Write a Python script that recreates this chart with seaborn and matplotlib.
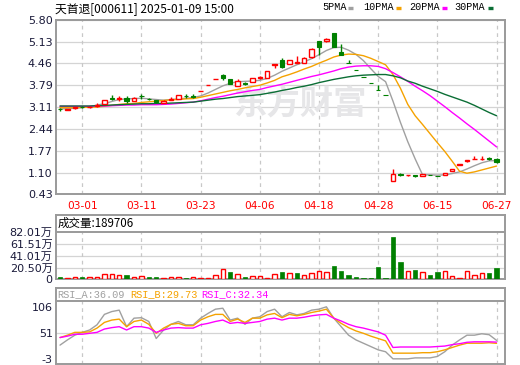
import numpy as np
import pandas as pd
import seaborn as sns
import matplotlib.pyplot as plt
from matplotlib.lines import Line2D

sns.set_style("white")
plt.rcParams['font.family'] = ['DejaVu Sans', 'Noto Sans CJK SC']

# ---- data ----
date_labels = ['03-01', '03-11', '03-23', '04-06', '04-18', '04-28', '06-15', '06-27']
date_pos = [3, 11, 19, 27, 35, 43, 51, 59]

opens = [3.06, 3.04, 3.08, 3.13, 3.11, 3.14, 3.21, 3.38, 3.38, 3.40,
         3.31, 3.47, 3.37, 3.33, 3.24, 3.35, 3.38, 3.47, 3.46, 3.60,
         3.79, 3.97, 4.10, 3.98, 3.78, 3.86, 3.89, 4.02, 4.02, 4.42,
         4.58, 4.44, 4.49, 4.47, 4.65, 5.16, 5.14, 5.40, 4.82, 4.47,
         4.26, 4.04, 3.86, 3.65, 3.49, 0.85, 1.05, 1.01, 1.01, 1.00,
         1.03, 1.00, 1.04, 1.14, 1.34, 1.47, 1.52, 1.52, 1.54, 1.52]
closes = [3.05, 3.05, 3.11, 3.11, 3.13, 3.17, 3.32, 3.37, 3.39, 3.29,
          3.40, 3.46, 3.36, 3.26, 3.31, 3.38, 3.48, 3.45, 3.44, 3.61,
          3.79, 3.97, 4.01, 3.84, 3.93, 3.83, 4.00, 4.04, 4.22, 4.43,
          4.36, 4.57, 4.50, 4.64, 4.92, 4.97, 5.23, 4.97, 4.72, 4.46,
          4.25, 4.03, 3.85, 3.64, 3.48, 1.05, 1.03, 1.03, 1.00, 1.05,
          1.02, 0.99, 1.10, 1.22, 1.35, 1.48, 1.53, 1.53, 1.53, 1.43]
highs = [3.10, 3.05, 3.12, 3.14, 3.14, 3.23, 3.33, 3.49, 3.45, 3.45,
         3.42, 3.53, 3.40, 3.34, 3.32, 3.42, 3.50, 3.53, 3.52, 3.61,
         3.79, 3.97, 4.14, 3.98, 3.98, 3.90, 4.00, 4.08, 4.22, 4.43,
         4.62, 4.57, 4.70, 4.65, 4.93, 5.16, 5.24, 5.41, 5.06, 4.58,
         4.26, 4.04, 3.86, 3.80, 3.49, 1.20, 1.09, 1.04, 1.01, 1.05,
         1.03, 1.00, 1.10, 1.22, 1.35, 1.48, 1.62, 1.60, 1.58, 1.54]
lows = [3.00, 3.04, 3.07, 3.10, 3.10, 3.12, 3.20, 3.33, 3.30, 3.25,
        3.30, 3.37, 3.32, 3.24, 3.23, 3.33, 3.37, 3.41, 3.40, 3.60,
        3.79, 3.97, 3.94, 3.84, 3.78, 3.79, 3.89, 3.98, 4.02, 4.33,
        4.31, 4.44, 4.49, 4.46, 4.64, 4.73, 5.13, 4.96, 4.72, 4.46,
        4.25, 4.03, 3.85, 3.64, 3.48, 0.85, 0.98, 1.00, 0.97, 1.00,
        1.01, 0.98, 1.04, 1.14, 1.34, 1.41, 1.52, 1.49, 1.50, 1.40]

ma5 = [3.06, 3.07, 3.08, 3.10, 3.13, 3.18, 3.22, 3.29, 3.35, 3.37,
       3.38, 3.39, 3.37, 3.35, 3.33, 3.35, 3.37, 3.39, 3.41, 3.46,
       3.55, 3.66, 3.77, 3.85, 3.90, 3.91, 3.92, 3.94, 4.00, 4.10,
       4.22, 4.32, 4.42, 4.51, 4.61, 4.73, 4.86, 4.95, 4.96, 4.87,
       4.74, 4.55, 4.30, 4.06, 3.90, 3.30, 2.65, 2.05, 1.52, 1.03,
       1.03, 1.02, 1.03, 1.07, 1.12, 1.21, 1.31, 1.40, 1.46, 1.47]
ma10 = [3.10, 3.10, 3.10, 3.11, 3.11, 3.12, 3.14, 3.17, 3.20, 3.22,
        3.23, 3.26, 3.28, 3.30, 3.32, 3.34, 3.35, 3.37, 3.38, 3.42,
        3.47, 3.52, 3.57, 3.62, 3.66, 3.71, 3.75, 3.79, 3.86, 3.94,
        4.05, 4.12, 4.20, 4.29, 4.37, 4.47, 4.56, 4.66, 4.72, 4.75,
        4.74, 4.70, 4.62, 4.52, 4.42, 4.12, 3.70, 3.20, 2.85, 2.58,
        2.30, 2.02, 1.75, 1.45, 1.14, 1.08, 1.12, 1.18, 1.24, 1.30]
ma20 = [3.14, 3.14, 3.14, 3.14, 3.14, 3.15, 3.15, 3.16, 3.17, 3.18,
        3.18, 3.19, 3.19, 3.19, 3.20, 3.21, 3.23, 3.25, 3.27, 3.31,
        3.36, 3.41, 3.45, 3.50, 3.55, 3.59, 3.63, 3.66, 3.72, 3.77,
        3.82, 3.88, 3.94, 4.00, 4.06, 4.11, 4.17, 4.23, 4.30, 4.35,
        4.38, 4.39, 4.39, 4.37, 4.30, 4.18, 4.05, 3.91, 3.76, 3.62,
        3.47, 3.30, 3.13, 2.95, 2.78, 2.60, 2.43, 2.25, 2.07, 1.89]
ma30 = [3.15, 3.15, 3.15, 3.15, 3.15, 3.16, 3.17, 3.18, 3.19, 3.20,
        3.21, 3.22, 3.22, 3.23, 3.23, 3.24, 3.25, 3.26, 3.27, 3.30,
        3.33, 3.36, 3.38, 3.41, 3.44, 3.46, 3.48, 3.50, 3.54, 3.58,
        3.63, 3.67, 3.72, 3.76, 3.81, 3.87, 3.92, 3.97, 4.01, 4.05,
        4.08, 4.10, 4.11, 4.12, 4.12, 4.08, 4.02, 3.92, 3.85, 3.76,
        3.68, 3.60, 3.51, 3.43, 3.35, 3.27, 3.17, 3.06, 2.95, 2.85]

# volume in 万
vols = [4.1, 2.3, 4.1, 4.1, 4.1, 4.1, 8.8, 8.8, 7.0, 7.6,
        4.1, 5.3, 4.1, 4.1, 2.3, 3.5, 3.5, 2.3, 3.5, 2.3,
        2.3, 7.0, 18.7, 12.9, 8.8, 4.1, 6.4, 5.3, 1.8, 8.8,
        12.9, 10.5, 11.1, 7.0, 10.5, 14.0, 12.9, 23.4, 14.6, 7.6,
        4.1, 2.3, 2.3, 21.6, 2.3, 74.2, 30.4, 14.6, 16.4, 12.9,
        7.6, 12.9, 14.6, 5.3, 1.8, 14.0, 7.0, 10.5, 11.1, 18.97]
vol_dir = list('grrgrrrrrg' 'rrggrrrgrr' 'rrrgrgrrrr' 'grgrrrrggg' 'gggggggrgr' 'ggrrrrrrgg')

rsi_a = [26, 37, 47, 53, 58, 69, 91, 97, 100, 65,
         83, 84, 76, 40, 58, 70, 76, 69, 69, 83,
         93, 102, 104, 79, 83, 70, 83, 86, 97, 102,
         86, 95, 90, 93, 100, 102, 107, 83, 65, 47,
         37, 30, 23, 16, 12, -3, -3, -3, -1, -1,
         -1, 2, 12, 26, 37, 47, 47, 50, 48, 36.09]
rsi_b = [42, 47, 53, 53, 54, 62, 74, 79, 81, 65,
         76, 79, 70, 51, 62, 70, 72, 67, 67, 79,
         86, 91, 91, 76, 81, 74, 83, 83, 90, 93,
         84, 91, 88, 91, 95, 98, 102, 83, 72, 63,
         56, 51, 45, 40, 35, 9, 9, 9, 9, 10,
         10, 12, 16, 21, 26, 30, 30, 30, 31, 29.73]
rsi_c = [42, 45, 49, 49, 51, 53, 60, 63, 65, 58,
         65, 65, 62, 53, 58, 62, 63, 62, 62, 69,
         72, 76, 79, 72, 74, 72, 74, 76, 81, 83,
         79, 83, 83, 85, 88, 90, 91, 83, 77, 70,
         65, 62, 58, 54, 47, 21, 22, 22, 22, 22,
         22, 23, 24, 27, 29, 32, 33, 33, 33, 32.34]

price_ticks = [0.43, 1.10, 1.77, 2.44, 3.11, 3.79, 4.46, 5.13, 5.80]
vol_ticks = [0, 20.50, 41.01, 61.51, 82.01]
rsi_ticks = [-3, 51, 106]

RED = '#ff0000'
GREEN = '#008000'
C5, C10, C20, C30 = '#a0a0a0', '#f5a200', '#ff00ff', '#0b6e35'
BORDER = '#9a9a9a'
GRID = '#d4d4d4'
TXT = '#1a1a3a'

W, H = 520, 365
fig = plt.figure(figsize=(W / 100, H / 100), dpi=100)
L, R = 55.5, 505


def box(top, bottom):
    return [L / W, 1 - bottom / H, (R - L) / W, (bottom - top) / H]


ax = fig.add_axes(box(20, 194.3))
axv = fig.add_axes(box(215, 279.3))
axr = fig.add_axes(box(288, 364))

idx = np.arange(len(opens))
xlim = (-0.61, 60.14)

for a in (ax, axv, axr):
    a.set_xlim(*xlim)
    for s in a.spines.values():
        s.set_color(BORDER)
        s.set_linewidth(1.4)
    a.tick_params(length=0, labelsize=8, colors=TXT, pad=2)

# ---- price panel ----
ax.set_ylim(0.43, 5.80)
ax.set_yticks(price_ticks)
ax.set_yticklabels(['%.2f' % v for v in price_ticks])
for v in price_ticks:
    ax.axhline(v, color=GRID, lw=0.9, zorder=0)
for p in date_pos:
    ax.axvline(p, color='#c8c8c8', lw=0.9, ls=(0, (3, 3)), zorder=0)
ax.set_xticks(date_pos)
ax.set_xticklabels(date_labels, color=RED, fontsize=7.6)
ax.tick_params(axis='x', pad=5, colors=RED)

ax.text(0.395, 0.515, '东方财富', transform=ax.transAxes, fontsize=24,
        fontweight='bold', color='#e6e6e8', va='center', ha='left',
        family=['Noto Sans CJK SC'], zorder=0)

for vals, col in ((ma5, C5), (ma10, C10), (ma20, C20), (ma30, C30)):
    sns.lineplot(x=idx, y=vals, ax=ax, color=col, lw=1.0, zorder=2, legend=False)

o, c = np.array(opens), np.array(closes)
h, l = np.array(highs), np.array(lows)
up = c >= o
lo_b, hi_b = np.minimum(o, c), np.maximum(o, c)
bh = np.maximum(hi_b - lo_b, 0.012)
cols = np.where(up, RED, GREEN)
ax.vlines(idx, hi_b, h, colors=cols, lw=1.0, zorder=3)
ax.vlines(idx, l, lo_b, colors=cols, lw=1.0, zorder=3)
ax.bar(idx[up], bh[up], bottom=lo_b[up], width=0.6, facecolor='white',
       edgecolor=RED, lw=1.0, zorder=4)
ax.bar(idx[~up], bh[~up], bottom=lo_b[~up], width=0.6, facecolor=GREEN,
       edgecolor=GREEN, lw=0.8, zorder=4)

# ---- volume panel ----
vtop = 82.01 * (279.3 - 215) / (279.3 - 232.3)
axv.set_ylim(0, vtop)
axv.set_yticks(vol_ticks)
axv.set_yticklabels(['0'] + ['%.2f万' % v for v in vol_ticks[1:]])
axv.set_xticks([])
for v in vol_ticks[1:4]:
    axv.axhline(v, color=GRID, lw=0.9, zorder=0)
axv.axhline(82.01, color=BORDER, lw=1.4, zorder=1)
frac = 82.01 / vtop
for p in date_pos:
    axv.axvline(p, ymax=frac, color='#c8c8c8', lw=0.9, ls=(0, (3, 3)), zorder=0)
vd = np.array(vol_dir)
vv = np.array(vols)
axv.bar(idx[vd == 'r'], vv[vd == 'r'], width=0.6, facecolor='white',
        edgecolor=RED, lw=1.0, zorder=3)
axv.bar(idx[vd == 'g'], vv[vd == 'g'], width=0.6, facecolor=GREEN,
        edgecolor=GREEN, lw=0.5, zorder=3)
axv.text(0.004, (82.01 + vtop) / 2 / vtop, '成交量:189706', transform=axv.transAxes,
         fontsize=8.3, color='black', va='center', ha='left',
         family=['Noto Sans CJK SC', 'DejaVu Sans'])

# ---- RSI panel ----
r_lo = 51 - (364 - 333.3) * 2.115
r_hi = 51 + (333.3 - 288) * 2.115
r_div = 51 + (333.3 - 301) * 2.115
axr.set_ylim(r_lo, r_hi)
axr.set_yticks(rsi_ticks)
axr.set_yticklabels([str(v) for v in rsi_ticks])
axr.set_xticks([])
axr.axhline(51, color=GRID, lw=0.9, zorder=0)
axr.axhline(r_div, color=BORDER, lw=1.4, zorder=1)
rfrac = (r_div - r_lo) / (r_hi - r_lo)
for p in date_pos:
    axr.axvline(p, ymax=rfrac, color='#c8c8c8', lw=0.9, ls=(0, (3, 3)), zorder=0)
for vals, col in ((rsi_a, C5), (rsi_b, C10), (rsi_c, C20)):
    sns.lineplot(x=idx, y=vals, ax=axr, color=col, lw=1.0, zorder=2, legend=False)

ry = 1 - 294.5 / H
for xpix, txt, col in ((57, 'RSI_A:36.09', C5), (130, 'RSI_B:29.73', C10),
                       (201.7, 'RSI_C:32.34', C20)):
    fig.text(xpix / W, ry, txt, color=col, fontsize=7.4, va='center', ha='left',
             family=['Liberation Mono'])

# ---- title and legend ----
fig.text(55 / W, 1 - 8.5 / H, '天首退[000611] 2025-01-09 15:00', fontsize=8.5,
         va='center', ha='left', color='black', family=['Noto Sans CJK SC'])
ly = 1 - 7.5 / H
for xpix, txt, x0, col in ((322, '5PMA', 348, C5), (363, '10PMA', 396, C10),
                           (409, '20PMA', 442, C20), (454, '30PMA', 488, C30)):
    fig.text(xpix / W, ly, txt, fontsize=7.3, va='center', ha='left',
             color='black', family=['Liberation Mono'])
    fig.add_artist(Line2D([x0 / W, (x0 + 5) / W], [ly, ly], transform=fig.transFigure,
                          color=col, lw=2.4, solid_capstyle='butt'))

fig.savefig('out.png', dpi=100)
